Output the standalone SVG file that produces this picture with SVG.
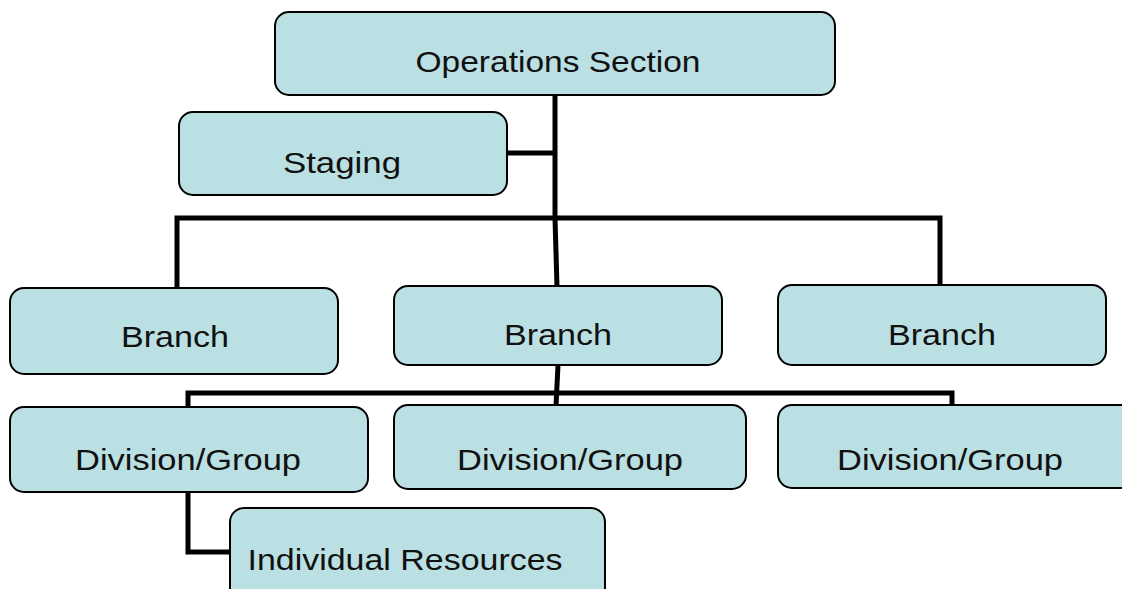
<svg xmlns="http://www.w3.org/2000/svg" width="1122" height="589" viewBox="0 0 1122 589">
<style>
.box{fill:#BBE0E3;stroke:#000;stroke-width:2}
.lbl{font-family:"Liberation Sans",Arial,sans-serif;font-size:30px;fill:#111;text-anchor:middle}
.con{fill:none;stroke:#000;stroke-width:5;stroke-linejoin:miter}
</style>
<rect width="1122" height="589" fill="#fff"/>
<g id="connectors">
<path class="con" d="M555 95 V218"/>
<path class="con" d="M507 153 H555"/>
<path class="con" d="M177 288 V218 H940 V286"/>
<path class="con" d="M555 218 L557 287"/>
<path class="con" d="M188 407 V393 H952 V406"/>
<path class="con" d="M558 365 L556 406"/>
<path class="con" d="M188 492 V552 H231"/>
</g>
<g id="ops"><rect class="box" x="275" y="12" width="560" height="83" rx="14"/><text class="lbl" x="558" y="72" textLength="285" lengthAdjust="spacingAndGlyphs">Operations Section</text></g>
<g id="staging"><rect class="box" x="179" y="112" width="328" height="83" rx="14"/><text class="lbl" x="342" y="173" textLength="118" lengthAdjust="spacingAndGlyphs">Staging</text></g>
<g id="branch1"><rect class="box" x="10" y="288" width="328" height="86" rx="14"/><text class="lbl" x="175" y="347" textLength="108" lengthAdjust="spacingAndGlyphs">Branch</text></g>
<g id="branch2"><rect class="box" x="394" y="286" width="328" height="79" rx="14"/><text class="lbl" x="558" y="345" textLength="108" lengthAdjust="spacingAndGlyphs">Branch</text></g>
<g id="branch3"><rect class="box" x="778" y="285" width="328" height="80" rx="14"/><text class="lbl" x="942" y="345" textLength="108" lengthAdjust="spacingAndGlyphs">Branch</text></g>
<g id="div1"><rect class="box" x="10" y="407" width="358" height="85" rx="14"/><text class="lbl" x="188" y="470" textLength="226" lengthAdjust="spacingAndGlyphs">Division/Group</text></g>
<g id="div2"><rect class="box" x="394" y="405" width="352" height="84" rx="14"/><text class="lbl" x="570" y="470" textLength="226" lengthAdjust="spacingAndGlyphs">Division/Group</text></g>
<g id="div3"><rect class="box" x="778" y="405" width="360" height="83" rx="14"/><text class="lbl" x="950" y="470" textLength="226" lengthAdjust="spacingAndGlyphs">Division/Group</text></g>
<g id="resources"><rect class="box" x="230" y="508" width="375" height="95" rx="14"/><text class="lbl" x="405" y="570" textLength="315" lengthAdjust="spacingAndGlyphs">Individual Resources</text></g>
</svg>
